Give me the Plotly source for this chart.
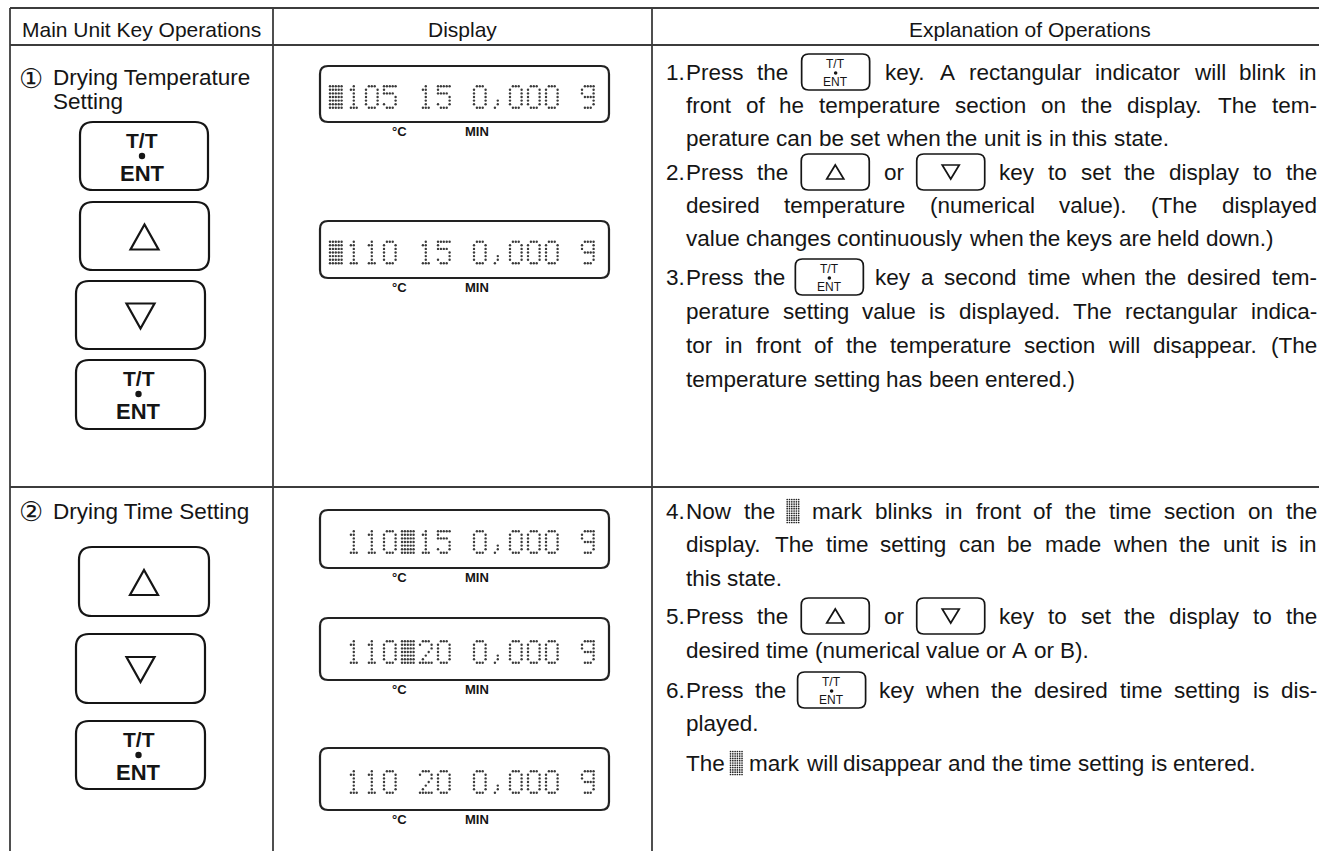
import plotly.graph_objects as go

W, H = 1319, 851
SANS = "Liberation Sans, Arial, Helvetica, sans-serif"
INK = "#151515"
RULE = "#3c3c3c"

# ---------------- content ----------------
HEADERS = ["Main Unit Key Operations", "Display", "Explanation of Operations"]
SECTION_NUMS = ["\u2460", "\u2461"]
SECTION_LINES = [["Drying Temperature", "Setting"], ["Drying Time Setting"]]
KEYS = ["ENT", "UP", "DN", "ENT", "UP", "DN", "ENT"]
DISPLAY_STRINGS = ["#105 15 0,000 g", "#110 15 0,000 g", " 110#15 0,000 g",
                   " 110#20 0,000 g", " 110 20 0,000 g"]
UNIT_LABELS = ["\u00b0C", "MIN"]
EXPL_NUMS = ["1.", "", "", "2.", "", "", "3.", "", "", "", "4.", "", "", "5.", "", "6.", "", ""]
EXPL_TEXT = [
    "Press the [ENT] key. A rectangular indicator will blink in",
    "front of he temperature section on the display. The tem-",
    "perature can be set when the unit is in this state.",
    "Press the [UP] or [DN] key to set the display to the",
    "desired temperature (numerical value). (The displayed",
    "value changes continuously when the keys are held down.)",
    "Press the [ENT] key a second time when the desired tem-",
    "perature setting value is displayed. The rectangular indica-",
    "tor in front of the temperature section will disappear. (The",
    "temperature setting has been entered.)",
    "Now the [MARK] mark blinks in front of the time section on the",
    "display. The time setting can be made when the unit is in",
    "this state.",
    "Press the [UP] or [DN] key to set the display to the",
    "desired time (numerical value or A or B).",
    "Press the [ENT] key when the desired time setting is dis-",
    "played.",
    "The [MARK] mark will disappear and the time setting is entered.",
]
EXPL_JUSTIFY = [True, True, False, True, True, False, True, True, True, False,
                True, True, False, True, False, True, False, False]

# ---------------- geometry ----------------
X_LEFT, X_COL1, X_COL2 = 10, 273, 652
Y_TOP, Y_HEAD, Y_ROW = 8, 45, 487
HEADER_CX = [141, 462, 1030]
HEADER_Y = 29
SEC_NUM_POS = [(31, 78), (31, 511)]
SEC_LINE_POS = [[(52, 77), (52, 101)], [(52, 511)]]
KEY_BOXES = [(80, 208, 122, 190), (80, 209, 202, 270), (76, 205, 281, 349), (76, 205, 360, 429),
             (79, 209, 547, 616), (76, 205, 634, 703), (76, 205, 721, 789)]
DISP_X0, DISP_X1 = 320, 609
DISP_Y = [(66, 122), (221, 278), (510, 568), (618, 680), (748, 810)]
CELL0_X, CELL_ADV = 330, 18
DOT_PX, DOT_PY = 2.9, 3.6
UNIT_CX = [399, 477]
EXPL_Y = [72, 105, 138, 172, 205, 238, 277, 311, 345, 379,
          511, 544, 578, 616, 650, 690, 723, 763]
X_NUM, X_TXT, X_RIGHT = 665, 685, 1316
FS_HEAD, FS_BODY, FS_EXPL = 21, 22.5, 22.5
SKEY_W, SKEY_H = 68, 36
MARK_W = 12

GLYPHS = {
    '0': ["01110", "10001", "10001", "10001", "10001", "10001", "01110"],
    '1': ["00100", "01100", "00100", "00100", "00100", "00100", "01110"],
    '2': ["01110", "10001", "00001", "00010", "00100", "01000", "11111"],
    '5': ["11111", "10000", "11110", "00001", "00001", "10001", "01110"],
    'g': ["01111", "10001", "10001", "01111", "00001", "00001", "01110"],
    ',': ["00000", "00000", "00000", "00000", "00100", "00100", "01000"],
    '#': ["11111"] * 7,
    ' ': ["00000"] * 7,
}

AW = {' ': 278, '!': 278, '"': 355, '#': 556, '$': 556, '%': 889, '&': 667, "'": 191, '(': 333, ')': 333,
      '*': 389, '+': 584, ',': 278, '-': 333, '.': 278, '/': 278, ':': 278, ';': 278, '?': 556,
      'A': 667, 'B': 667, 'C': 722, 'D': 722, 'E': 667, 'F': 611, 'G': 778, 'H': 722, 'I': 278, 'J': 500,
      'K': 667, 'L': 556, 'M': 833, 'N': 722, 'O': 778, 'P': 667, 'Q': 778, 'R': 722, 'S': 667, 'T': 611,
      'U': 722, 'V': 667, 'W': 944, 'X': 667, 'Y': 667, 'Z': 611,
      'a': 556, 'b': 556, 'c': 500, 'd': 556, 'e': 556, 'f': 278, 'g': 556, 'h': 556, 'i': 222, 'j': 222,
      'k': 500, 'l': 222, 'm': 833, 'n': 556, 'o': 556, 'p': 556, 'q': 556, 'r': 333, 's': 500, 't': 278,
      'u': 556, 'v': 500, 'w': 722, 'x': 500, 'y': 500, 'z': 500}
for d in "0123456789":
    AW[d] = 556


def tw(s, size):
    return sum(AW.get(c, 556) for c in s) * size / 1000.0


shapes, annots = [], []
lcd_x, lcd_y, mark_x, mark_y = [], [], [], []


def hline(y, x0, x1, w=1.8):
    shapes.append(dict(type="line", xref="x", yref="y", x0=x0, x1=x1, y0=y, y1=y,
                       line=dict(color=RULE, width=w)))


def vline(x, y0, y1, w=1.8):
    shapes.append(dict(type="line", xref="x", yref="y", x0=x, x1=x, y0=y0, y1=y1,
                       line=dict(color=RULE, width=w)))


def rrect(x0, x1, y0, y1, r, w, c=INK):
    p = (f"M {x0+r},{y0} L {x1-r},{y0} Q {x1},{y0} {x1},{y0+r} L {x1},{y1-r} "
         f"Q {x1},{y1} {x1-r},{y1} L {x0+r},{y1} Q {x0},{y1} {x0},{y1-r} "
         f"L {x0},{y0+r} Q {x0},{y0} {x0+r},{y0} Z")
    shapes.append(dict(type="path", xref="x", yref="y", path=p, line=dict(color=c, width=w)))


def tri(cx, cy, hw, h, up, w):
    if up:
        p = f"M {cx-hw},{cy+h/2} L {cx+hw},{cy+h/2} L {cx},{cy-h/2} Z"
    else:
        p = f"M {cx-hw},{cy-h/2} L {cx+hw},{cy-h/2} L {cx},{cy+h/2} Z"
    shapes.append(dict(type="path", xref="x", yref="y", path=p, line=dict(color=INK, width=w)))


def dot(cx, cy, r):
    shapes.append(dict(type="circle", xref="x", yref="y", x0=cx-r, x1=cx+r, y0=cy-r, y1=cy+r,
                       fillcolor=INK, line=dict(width=0)))


def text(x, y, s, size, anchor="left", family=SANS, color=INK):
    annots.append(dict(x=x, y=y, xref="x", yref="y", text=s, showarrow=False, xanchor=anchor,
                       yanchor="middle", borderpad=0, font=dict(family=family, size=size, color=color)))


def big_key(box, kind):
    x0, x1, y0, y1 = box
    rrect(x0, x1, y0, y1, 13, 2.2)
    cx, cy = (x0 + x1) / 2, (y0 + y1) / 2
    if kind == "ENT":
        text(cx - 2, y0 + 18, "<b>T/T</b>", 21, "center")
        dot(cx - 2, y0 + 34, 3.2)
        text(cx - 2, y0 + 51, "<b>ENT</b>", 22, "center")
    else:
        tri(cx, cy + 1, 14, 25, kind == "UP", 2.2)


def small_key(cx, cy, kind):
    rrect(cx - SKEY_W / 2, cx + SKEY_W / 2, cy - SKEY_H / 2, cy + SKEY_H / 2, 7, 1.7)
    if kind == "ENT":
        text(cx, cy - 8, "T/T", 12, "center")
        dot(cx, cy + 1, 1.8)
        text(cx, cy + 10, "ENT", 12, "center")
    else:
        tri(cx, cy, 8.5, 14, kind == "UP", 1.7)


def mark(x0, cy):
    for r in range(11):
        for c in range(6):
            mark_x.append(x0 + c * 2.3)
            mark_y.append(cy - 11.5 + r * 2.3)


def lcd(s, cy):
    for i, ch in enumerate(s):
        for r, row in enumerate(GLYPHS[ch]):
            for c, bit in enumerate(row):
                if bit == "1":
                    lcd_x.append(CELL0_X + i * CELL_ADV + c * DOT_PX)
                    lcd_y.append(cy - 3 * DOT_PY + r * DOT_PY)


# ---------------- table rules ----------------
hline(Y_TOP, X_LEFT, W, 2.2)
hline(Y_HEAD, X_LEFT, W)
hline(Y_ROW, X_LEFT, W)
for x in (X_LEFT, X_COL1, X_COL2):
    vline(x, Y_TOP, H)

for cx, h in zip(HEADER_CX, HEADERS):
    text(cx, HEADER_Y, h, FS_HEAD, "center")

# ---------------- column 1 ----------------
for (nx, ny), num in zip(SEC_NUM_POS, SECTION_NUMS):
    text(nx, ny, num, 27, "center", family="DejaVu Sans, Noto Sans CJK JP, sans-serif")
for poss, lines in zip(SEC_LINE_POS, SECTION_LINES):
    for (lx, ly), s in zip(poss, lines):
        text(lx, ly, s, FS_BODY)
for box, kind in zip(KEY_BOXES, KEYS):
    big_key(box, kind)

# ---------------- column 2 ----------------
for (y0, y1), s in zip(DISP_Y, DISPLAY_STRINGS):
    rrect(DISP_X0, DISP_X1, y0, y1, 8, 2.2, "#222")
    lcd(s, (y0 + y1) / 2 + 3)
    for ux, u in zip(UNIT_CX, UNIT_LABELS):
        text(ux, y1 + 9, "<b>" + u + "</b>", 13, "center")

# ---------------- column 3 ----------------
SPECIAL = {"[ENT]": SKEY_W, "[UP]": SKEY_W, "[DN]": SKEY_W, "[MARK]": MARK_W}
for num, txt, y, just in zip(EXPL_NUMS, EXPL_TEXT, EXPL_Y, EXPL_JUSTIFY):
    if num:
        text(X_NUM, y, num, FS_EXPL)
    toks = txt.split(" ")
    widths = [SPECIAL[t] if t in SPECIAL else tw(t, FS_EXPL) for t in toks]
    gap = tw(" ", FS_EXPL)
    if just and len(toks) > 1:
        gap = (X_RIGHT - X_TXT - sum(widths)) / (len(toks) - 1)
    x = X_TXT
    for t, wd in zip(toks, widths):
        if t in ("[ENT]", "[UP]", "[DN]"):
            small_key(x + wd / 2, y, t[1:-1])
        elif t == "[MARK]":
            mark(x + 0.5, y)
        else:
            text(x, y, t, FS_EXPL)
        x += wd + gap

fig = go.Figure()
fig.add_trace(go.Scatter(x=lcd_x, y=lcd_y, mode="markers", hoverinfo="skip",
                         marker=dict(size=2.4, color="#3a3a3a", line=dict(width=0))))
fig.add_trace(go.Scatter(x=mark_x, y=mark_y, mode="markers", hoverinfo="skip",
                         marker=dict(size=1.7, color="#222", line=dict(width=0))))
fig.update_layout(
    width=W, height=H, margin=dict(l=0, r=0, t=0, b=0),
    paper_bgcolor="white", plot_bgcolor="white", showlegend=False, hovermode=False,
    xaxis=dict(range=[0, W], visible=False, fixedrange=True),
    yaxis=dict(range=[H, 0], visible=False, fixedrange=True),
    shapes=shapes, annotations=annots,
)
fig.write_html("out.html", config={"displayModeBar": False, "staticPlot": True},
               post_script="document.body.style.margin='0';document.body.style.overflow='hidden';")
